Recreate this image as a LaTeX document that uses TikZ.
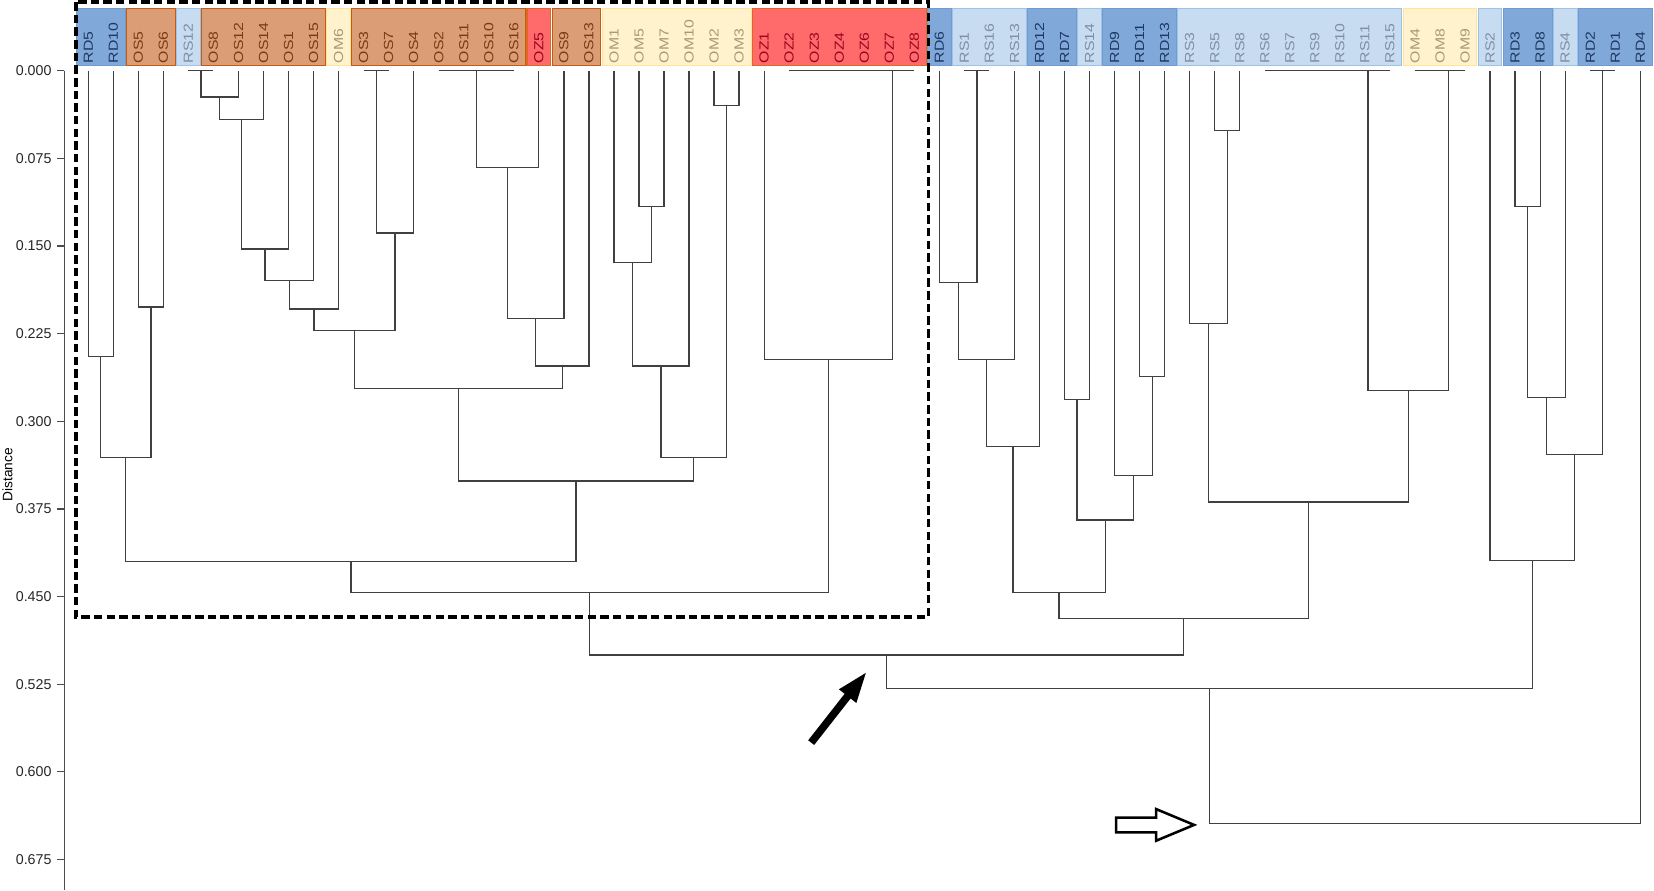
\documentclass[tikz,border=0pt]{standalone}
\usepackage{fontspec}
\setmainfont{Liberation Sans}
\usetikzlibrary{calc}
\definecolor{fD}{HTML}{80A9D9}\definecolor{dD}{HTML}{6F9CD0}\definecolor{tD}{HTML}{1F3864}
\definecolor{fS}{HTML}{C7DBF1}\definecolor{dS}{HTML}{9DC3E6}\definecolor{tS}{HTML}{7F8EA3}
\definecolor{fO}{HTML}{DB9D76}\definecolor{dO}{HTML}{C55A11}\definecolor{tO}{HTML}{7B3A14}
\definecolor{fM}{HTML}{FFF2CC}\definecolor{dM}{HTML}{FFE699}\definecolor{tM}{HTML}{A59B78}
\definecolor{fZ}{HTML}{FF6B6B}\definecolor{dZ}{HTML}{E2661F}\definecolor{tZ}{HTML}{A00020}
\newcommand{\jn}[4]{%
  \path let \p1=(#2), \p2=(#3) in ({0.5*\x1+0.5*\x2},{-#4pt}) coordinate (#1);
  \draw[tree] (#2) |- (#1) -| (#3);}
\newcommand{\grp}[3]{\draw[box#3] ($(#1)+(-11.2,-59)$) rectangle ($(#2)+(11.2,-5)$);}
\begin{document}
\begin{tikzpicture}[x=1pt,y=-1pt,
  tree/.style={draw=black!75,line width=1.2pt},
  boxD/.style={fill=fD,draw=dD,line width=0.8pt},
  boxS/.style={fill=fS,draw=dS,line width=0.8pt},
  boxO/.style={fill=fO,draw=dO,line width=1.1pt},
  boxM/.style={fill=fM,draw=dM,line width=0.8pt},
  boxZ/.style={fill=fZ,draw=dZ,line width=1.1pt},
  lbl/.style={rotate=90,anchor=west,inner sep=0pt,font=\fontsize{12.5}{13}\selectfont},
  ticklbl/.style={anchor=east,inner sep=0pt,font=\fontsize{13.5}{14}\selectfont,text=black!85},
  axisline/.style={draw=black!70,line width=1pt}]
\useasboundingbox (0,0) rectangle (1568,844);
% leaves
\foreach \lab/\ty [count=\i from 0] in {RD5/D,RD10/D,OS5/O,OS6/O,RS12/S,OS8/O,OS12/O,OS14/O,OS1/O,OS15/O,OM6/M,OS3/O,OS7/O,OS4/O,OS2/O,OS11/O,OS10/O,OS16/O,OZ5/Z,OS9/O,OS13/O,OM1/M,OM5/M,OM7/M,OM10/M,OM2/M,OM3/M,OZ1/Z,OZ2/Z,OZ3/Z,OZ4/Z,OZ6/Z,OZ7/Z,OZ8/Z,RD6/D,RS1/S,RS16/S,RS13/S,RD12/D,RD7/D,RS14/S,RD9/D,RD11/D,RD13/D,RS3/S,RS5/S,RS8/S,RS6/S,RS7/S,RS9/S,RS10/S,RS11/S,RS15/S,OM4/M,OM8/M,OM9/M,RS2/S,RD3/D,RD8/D,RS4/S,RD2/D,RD1/D,RD4/D}{
  \coordinate (\lab) at ({83.7+23.73*\i},67);
}
% coloured group boxes
\grp{RD5}{RD10}{D}\grp{OS5}{OS6}{O}\grp{RS12}{RS12}{S}\grp{OS8}{OS15}{O}
\grp{OM6}{OM6}{M}\grp{OS3}{OS16}{O}\grp{OZ5}{OZ5}{Z}\grp{OS9}{OS13}{O}
\grp{OM1}{OM3}{M}\grp{OZ1}{OZ8}{Z}\grp{RD6}{RD6}{D}\grp{RS1}{RS13}{S}
\grp{RD12}{RD7}{D}\grp{RS14}{RS14}{S}\grp{RD9}{RD13}{D}\grp{RS3}{RS15}{S}
\grp{OM4}{OM9}{M}\grp{RS2}{RS2}{S}\grp{RD3}{RD8}{D}\grp{RS4}{RS4}{S}\grp{RD2}{RD4}{D}
\foreach \lab/\ty in {RD5/D,RD10/D,OS5/O,OS6/O,RS12/S,OS8/O,OS12/O,OS14/O,OS1/O,OS15/O,OM6/M,OS3/O,OS7/O,OS4/O,OS2/O,OS11/O,OS10/O,OS16/O,OZ5/Z,OS9/O,OS13/O,OM1/M,OM5/M,OM7/M,OM10/M,OM2/M,OM3/M,OZ1/Z,OZ2/Z,OZ3/Z,OZ4/Z,OZ6/Z,OZ7/Z,OZ8/Z,RD6/D,RS1/S,RS16/S,RS13/S,RD12/D,RD7/D,RS14/S,RD9/D,RD11/D,RD13/D,RS3/S,RS5/S,RS8/S,RS6/S,RS7/S,RS9/S,RS10/S,RS11/S,RS15/S,OM4/M,OM8/M,OM9/M,RS2/S,RD3/D,RD8/D,RS4/S,RD2/D,RD1/D,RD4/D}{
  \node[lbl,text=t\ty] (t\lab) at ($(\lab)+(0,-7)$) {\scalebox{1.2}[1]{\lab}};
}
% zero-height groups
\draw[tree] (RS12) -- (OS8);  \coordinate (g1) at ($(RS12)!.5!(OS8)$);
\draw[tree] (OS3) -- (OS7);   \coordinate (g2) at ($(OS3)!.5!(OS7)$);
\draw[tree] (OS2) -- (OS16);  \coordinate (g3) at ($(OS2)!.5!(OS16)$);
\draw[tree] (OZ2) -- (OZ8);   \coordinate (g4) at ($(OZ7)+(3,0)$);
\draw[tree] (RS1) -- (RS16);  \coordinate (g5) at ($(RS1)!.5!(RS16)$);
\draw[tree] (RS6) -- (RS15);  \coordinate (g6) at ($(RS11)+(3,0)$);
\draw[tree] (OM4) -- (OM9);   \coordinate (g7) at ($(OM8)!.33!(OM9)$);
\draw[tree] (RD2) -- (RD1);   \coordinate (g8) at ($(RD2)!.5!(RD1)$);
% left part
\jn{m1}{RD5}{RD10}{338}
\jn{m2}{OS5}{OS6}{291}
\jn{m3}{m1}{m2}{434}
\jn{m4}{g1}{OS12}{92}
\jn{m5}{m4}{OS14}{113}
\jn{m6}{m5}{OS1}{236}
\jn{m7}{m6}{OS15}{266}
\jn{m8}{m7}{OM6}{293}
\jn{m9}{g2}{OS4}{221}
\jn{m10}{m8}{m9}{313}
\jn{m11}{g3}{OZ5}{159}
\jn{m12}{m11}{OS9}{302}
\jn{m13}{m12}{OS13}{347}
\jn{m14}{m10}{m13}{368}
\jn{m15}{OM5}{OM7}{196}
\jn{m16}{OM1}{m15}{249}
\jn{m17}{m16}{OM10}{347}
\jn{m18}{OM2}{OM3}{100}
\jn{m19}{m17}{m18}{434}
\jn{m20}{m14}{m19}{456}
\jn{m21}{m3}{m20}{532}
\jn{m22}{OZ1}{g4}{341}
\jn{m23}{m21}{m22}{562}
% right part
\jn{r1}{RD6}{g5}{268}
\jn{r2}{r1}{RS13}{341}
\jn{r3}{r2}{RD12}{423}
\jn{r4}{RD7}{RS14}{379}
\jn{r5}{RD11}{RD13}{357}
\jn{r6}{RD9}{r5}{451}
\jn{r7}{r4}{r6}{493}
\jn{r8}{r3}{r7}{562}
\jn{r9}{RS5}{RS8}{124}
\jn{r10}{RS3}{r9}{307}
\jn{r11}{g6}{g7}{370}
\jn{r12}{r10}{r11}{476}
\jn{r13}{r8}{r12}{586}
\jn{r14}{m23}{r13}{621}
\jn{s1}{RD3}{RD8}{196}
\jn{s2}{s1}{RS4}{377}
\jn{s3}{s2}{g8}{431}
\jn{s4}{RS2}{s3}{531}
\jn{s5}{r14}{s4}{653}
\jn{s6}{s5}{RD4}{781}
% dashed frame
\draw[line width=3.2pt,dash pattern=on 8pt off 4pt] (72,2) rectangle (880,585);
% black arrow
\begin{scope}[shift={(769,704)},rotate=51.9]
  \fill[black] (0,-3.6) -- (56,-3.6) -- (56,-10.5) -- (84,0) -- (56,10.5) -- (56,3.6) -- (0,3.6) -- cycle;
\end{scope}
% hollow arrow
\draw[line width=2.4pt,fill=white,line join=miter] (1058,775) -- (1096,775) -- (1096,767) -- (1132,782) -- (1096,797) -- (1096,789) -- (1058,789) -- cycle;
% axis
\coordinate (axT) at (61,67); \coordinate (axB) at (61,844);
\draw[axisline] (axT) -- (axB);
\foreach \v [count=\k from 0] in {0.000,0.075,0.150,0.225,0.300,0.375,0.450,0.525,0.600,0.675}{
  \coordinate (ta\k) at (61,{67+83.1*\k});
  \draw[axisline] (ta\k) -- ++(-7,0);
  \node[ticklbl] (tk\k) at ($(ta\k)+(-12,0)$) {\v};
}
\node[rotate=90,inner sep=0pt,font=\fontsize{13}{13}\selectfont] (dist) at (7,450) {Distance};
\end{tikzpicture}
\end{document}
